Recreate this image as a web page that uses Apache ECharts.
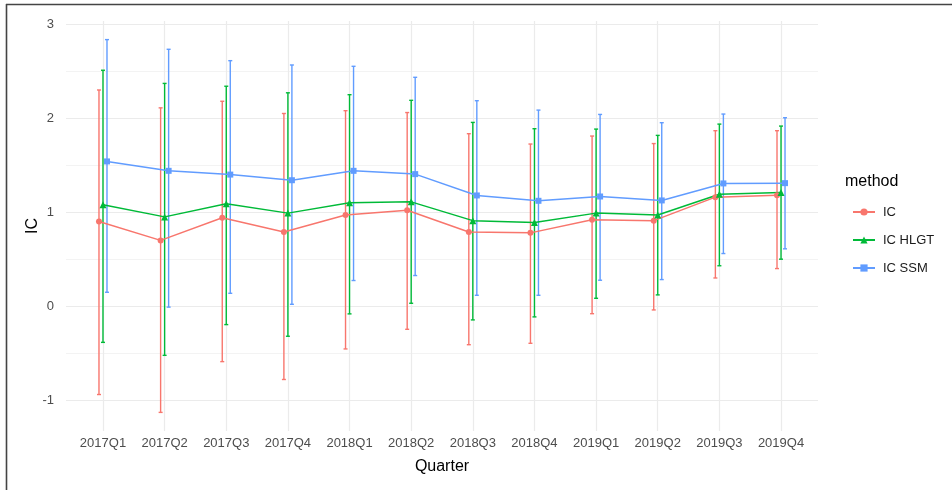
<!DOCTYPE html>
<html>
<head>
<meta charset="utf-8">
<script src="https://cdn.jsdelivr.net/npm/echarts@6/dist/echarts.min.js"></script>
<style>html,body{margin:0;padding:0;background:#fff}#c{width:952px;height:490px}</style>
</head>
<body>
<div id="c"></div>
<script>
const quarters = ['2017Q1','2017Q2','2017Q3','2017Q4','2018Q1','2018Q2','2018Q3','2018Q4','2019Q1','2019Q2','2019Q3','2019Q4'];
const methods = ['IC','IC HLGT','IC SSM'];
const icMean  = [0.90, 0.70, 0.94, 0.79, 0.97, 1.02, 0.79, 0.78, 0.92, 0.91, 1.16, 1.18];
const icLow   = [-0.94, -1.13, -0.59, -0.78, -0.455, -0.246, -0.41, -0.395, -0.08, -0.04, 0.30, 0.40];
const icHigh  = [2.30, 2.11, 2.18, 2.05, 2.08, 2.06, 1.835, 1.725, 1.81, 1.73, 1.867, 1.867];
const hlgtMean = [1.08, 0.95, 1.09, 0.99, 1.10, 1.11, 0.91, 0.89, 0.99, 0.97, 1.19, 1.21];
const hlgtLow  = [-0.385, -0.523, -0.196, -0.32, -0.082, 0.031, -0.146, -0.114, 0.084, 0.12, 0.43, 0.50];
const hlgtHigh = [2.51, 2.37, 2.34, 2.27, 2.25, 2.19, 1.955, 1.888, 1.884, 1.817, 1.937, 1.916];
const ssmMean = [1.54, 1.44, 1.40, 1.34, 1.44, 1.405, 1.178, 1.121, 1.167, 1.125, 1.306, 1.309];
const ssmLow  = [0.148, -0.01, 0.137, 0.02, 0.273, 0.326, 0.116, 0.116, 0.276, 0.283, 0.56, 0.61];
const ssmHigh = [2.836, 2.733, 2.612, 2.566, 2.552, 2.435, 2.186, 2.086, 2.04, 1.952, 2.044, 2.005];
const yLabels = [-1, 0, 1, 2, 3];
const yMinor = [-0.5, 0.5, 1.5, 2.5];

const colors = ['#F8766D', '#00BA38', '#619CFF'];
const symbols = ['circle', 'triangle', 'rect'];
const symSizes = [6, 7, 6];
const dodge = [-0.065, 0, 0.065];
const means = [icMean, hlgtMean, ssmMean];
const lows = [icLow, hlgtLow, ssmLow];
const highs = [icHigh, hlgtHigh, ssmHigh];
const FONT = '"Liberation Sans", Arial, Helvetica, sans-serif';

const chart = echarts.init(document.getElementById('c'), null, {renderer: 'canvas'});
const series = [];
methods.forEach((m, k) => {
  series.push({
    name: m, type: 'line', z: 3,
    data: means[k].map((v, i) => [i + dodge[k], v]),
    symbol: symbols[k], symbolSize: symSizes[k],
    lineStyle: {color: colors[k], width: 1.5},
    itemStyle: {color: colors[k]},
    animation: false
  });
  series.push({
    name: m, type: 'custom', z: 2,
    data: lows[k].map((lo, i) => [i + dodge[k], lo, highs[k][i]]),
    renderItem: function (params, api) {
      const x = api.value(0);
      const p1 = api.coord([x, api.value(1)]);
      const p2 = api.coord([x, api.value(2)]);
      const hw = 2;
      const st = {stroke: colors[k], lineWidth: 1.4};
      return {type: 'group', children: [
        {type: 'line', shape: {x1: p1[0], y1: p1[1], x2: p2[0], y2: p2[1]}, style: st},
        {type: 'line', shape: {x1: p1[0]-hw, y1: p1[1], x2: p1[0]+hw, y2: p1[1]}, style: st},
        {type: 'line', shape: {x1: p2[0]-hw, y1: p2[1], x2: p2[0]+hw, y2: p2[1]}, style: st}
      ]};
    },
    encode: {x: 0, y: [1, 2]},
    animation: false
  });
});

chart.setOption({
  backgroundColor: '#fff',
  animation: false,
  grid: {left: 66, right: 134, top: 21, bottom: 59, containLabel: false},
  xAxis: {
    type: 'value', min: -0.6, max: 11.6,
    axisLine: {show: false},
    axisTick: {show: false, customValues: quarters.map((q, i) => i)},
    axisLabel: {customValues: quarters.map((q, i) => i), formatter: v => quarters[Math.round(v)],
      color: '#4D4D4D', fontSize: 13, fontFamily: FONT, margin: 6},
    splitLine: {show: true, lineStyle: {color: '#EBEBEB', width: 1.2}},
    name: 'Quarter', nameLocation: 'middle', nameGap: 28,
    nameTextStyle: {color: '#000', fontSize: 16, fontFamily: FONT}
  },
  yAxis: [{
    type: 'value', min: -1.328, max: 3.034,
    axisLine: {show: false},
    axisTick: {show: false, customValues: yLabels},
    axisLabel: {customValues: yLabels, color: '#4D4D4D', fontSize: 13, fontFamily: FONT, margin: 12},
    splitLine: {show: true, lineStyle: {color: '#EBEBEB', width: 1.2}},
    name: 'IC', nameLocation: 'middle', nameGap: 25, nameRotate: 90, nameMoveOverlap: false,
    nameTextStyle: {color: '#000', fontSize: 16, fontFamily: FONT}
  }, {
    type: 'value', min: -1.328, max: 3.034, position: 'left',
    axisLine: {show: false},
    axisTick: {show: false, customValues: yMinor},
    axisLabel: {show: false, customValues: yMinor},
    splitLine: {show: true, lineStyle: {color: '#F0F0F0', width: 0.8}}
  }],
  legend: {
    orient: 'vertical', left: 847, top: 200,
    data: methods,
    itemWidth: 22, itemHeight: 9, itemGap: 14,
    textStyle: {color: '#1A1A1A', fontSize: 13, fontFamily: FONT, lineHeight: 14, padding: [0, 0, 0, 3]},
    selectedMode: false
  },
  graphic: [
    {type: 'text', left: 845, top: 174, style: {text: 'method', fill: '#000', font: '16px ' + FONT}},
    {type: 'line', shape: {x1: 6, y1: 4.5, x2: 952, y2: 4.5}, style: {stroke: '#444', lineWidth: 1.6}},
    {type: 'line', shape: {x1: 6.5, y1: 4, x2: 6.5, y2: 490}, style: {stroke: '#444', lineWidth: 1.6}}
  ],
  series: series
});
</script>
</body>
</html>
